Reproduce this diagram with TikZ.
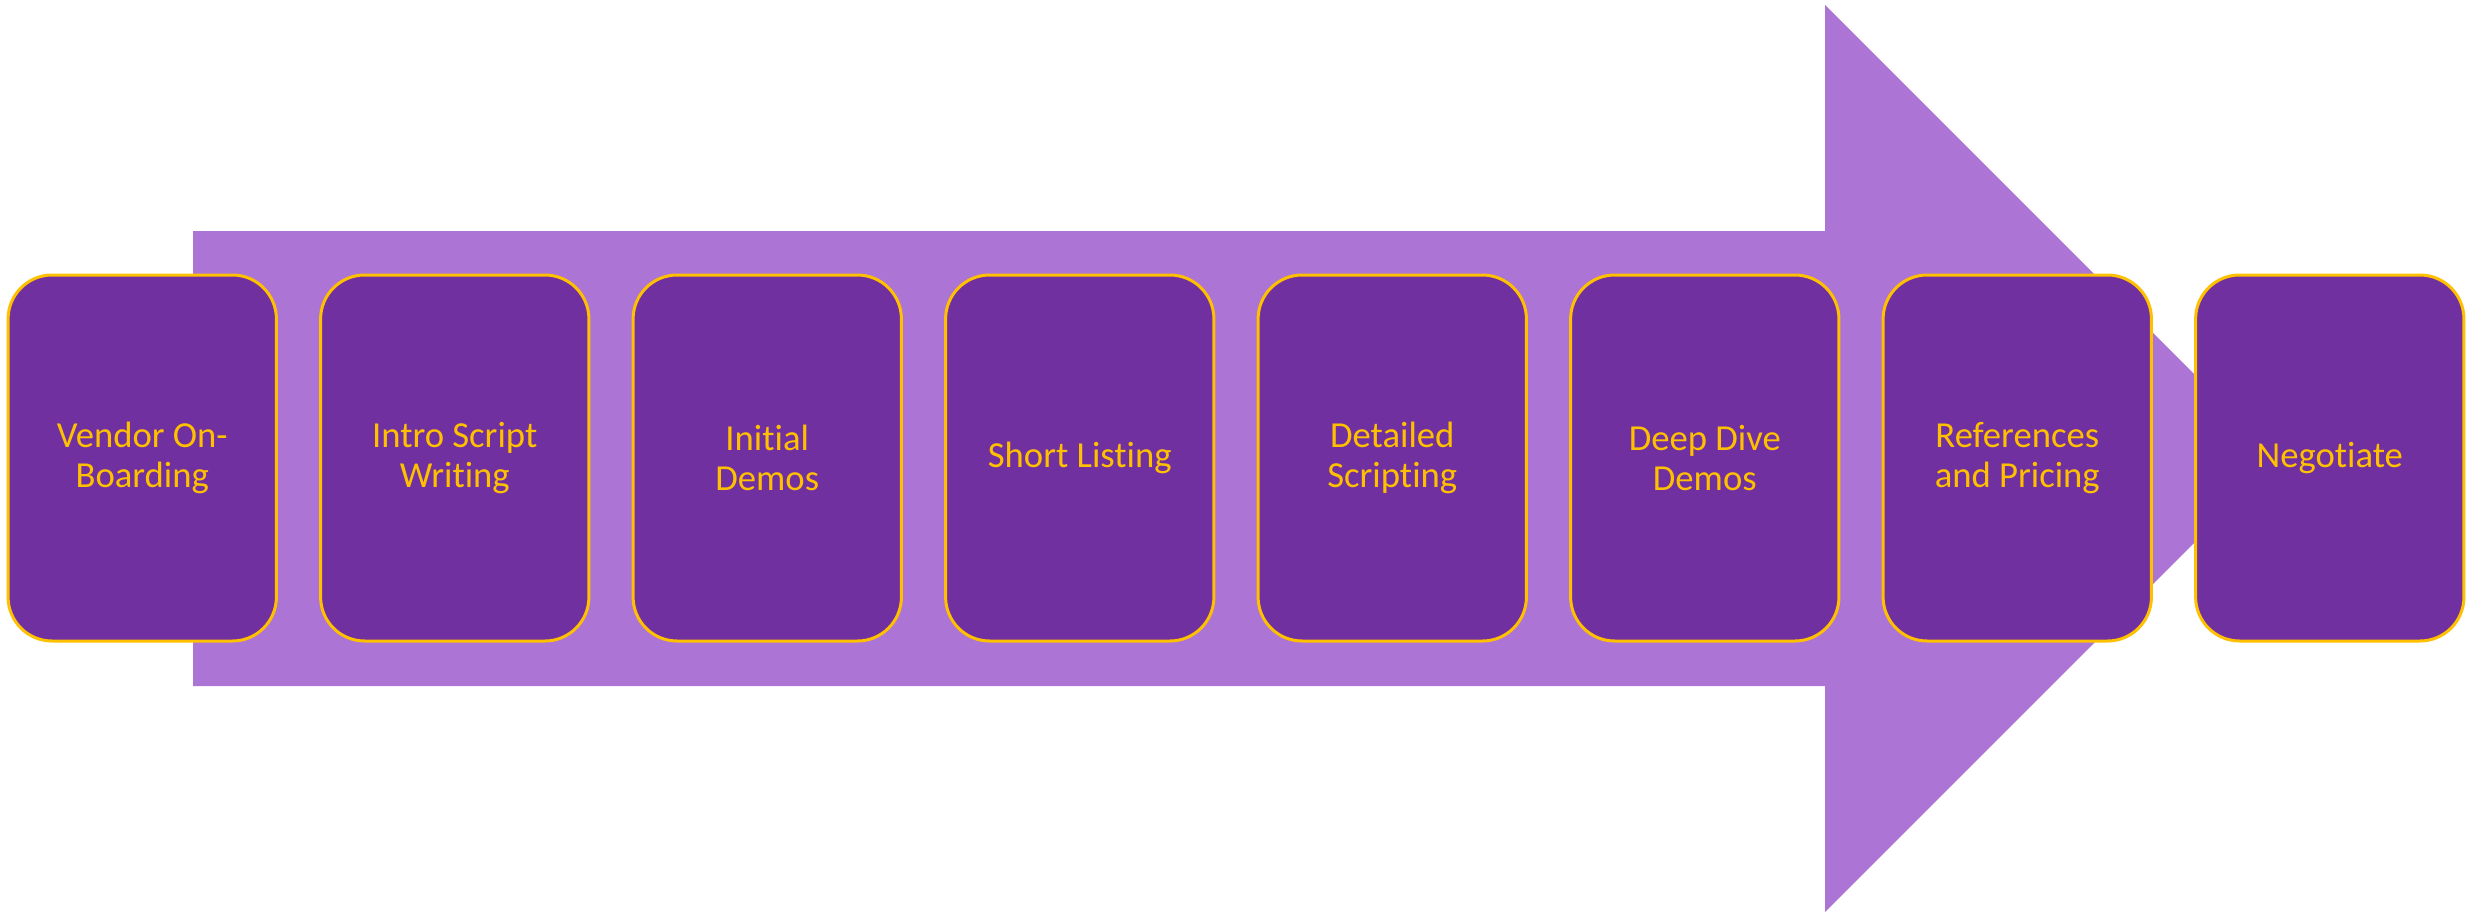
\documentclass[tikz,border=0pt]{standalone}
\usepackage{fontspec}
\setmainfont{Carlito}[Ligatures={NoCommon}]
\definecolor{arrowfill}{RGB}{172,116,212}
\definecolor{boxfill}{RGB}{112,48,160}
\definecolor{gold}{RGB}{255,192,0}
\begin{document}
\begin{tikzpicture}[x=0.3pt,y=-0.3pt,
  stepbox/.style={draw=gold, line width=0.9pt, fill=boxfill, rounded corners=13.2pt,
    minimum width=80.5pt, minimum height=109.8pt, inner sep=0pt, text=gold,
    font=\fontsize{11}{12}\selectfont, align=center},
  bigarrow/.style={fill=arrowfill, draw=none}]
\useasboundingbox (0,0) rectangle (2466,912);
% big arrow
\coordinate (s1) at (193,231);
\coordinate (h1) at (1825,231);
\coordinate (h2) at (1825,5);
\coordinate (tip) at (2278.5,458.5);
\coordinate (h3) at (1825,912);
\coordinate (h4) at (1825,686);
\coordinate (s2) at (193,686);
\fill[bigarrow] (s1) -- (h1) -- (h2) -- (tip) -- (h3) -- (h4) -- (s2) -- cycle;
% steps
\node[stepbox] (b1) at (142.25,458) {Vendor On-\\Boarding};
\node[stepbox] (b2) at (454.75,458) {Intro Script\\Writing};
\node[stepbox] (b3) at (767.25,458) {Initial\\Demos};
\node[stepbox] (b4) at (1079.75,458) {Short Listing};
\node[stepbox] (b5) at (1392.25,458) {Detailed\\Scripting};
\node[stepbox] (b6) at (1704.75,458) {Deep Dive\\Demos};
\node[stepbox] (b7) at (2017.25,458) {References\\and Pricing};
\node[stepbox] (b8) at (2329.75,458) {Negotiate};
\end{tikzpicture}
\end{document}
